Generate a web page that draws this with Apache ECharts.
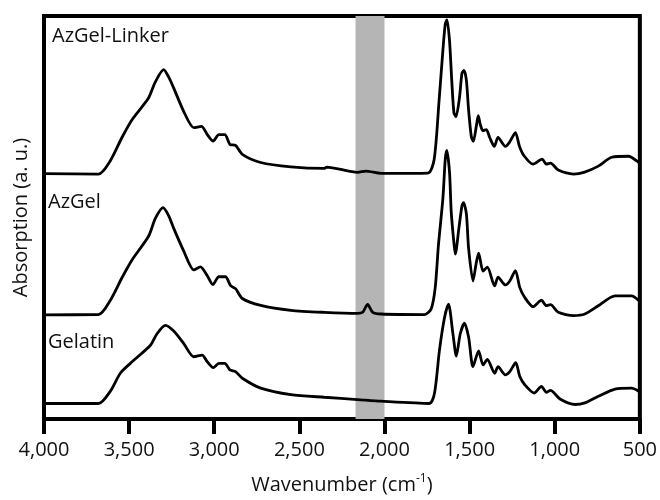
<!DOCTYPE html>
<html>
<head>
<meta charset="utf-8">
<script src="https://cdn.jsdelivr.net/npm/echarts@6/dist/echarts.min.js"></script>
<style>html,body{margin:0;padding:0;background:#fff}#c{width:660px;height:500px}</style>
</head>
<body>
<div id="c"></div>
<script>
// Tick labels (wavenumber, cm-1)
var xTicks = [4000, 3500, 3000, 2500, 2000, 1500, 1000, 500];
var seriesNames = ['AzGel-Linker', 'AzGel', 'Gelatin'];
var bandRange = [2170, 2000];

// AzGel-Linker (offset trace, arbitrary units)
var linkerWn  = [4000,3680,3611,3542,3483,3386,3346,3297,3268,3238,3179,3120,3075,3041,3006,2973,2938,2908,2875,2835,2727,2550,2354,2340,2158,2110,2020,1745,1708,1679,1657,1643,1633,1618,1604,1592,1580,1559,1545,1533,1519,1506,1490,1478,1461,1449,1437,1422,1402,1382,1355,1333,1290,1266,1231,1207,1178,1127,1074,1049,1025,979,890,824,744,665,567,508,500];
var linkerAbs = [248.5,248,261.3,285,303,325,341.3,353.7,346.3,335,311.3,295,296.3,288,281.3,288,288,278,277,268,259.7,255.3,253.7,255,249.7,251,248.7,249,263,323,373,400,404,383,340,310,306,326,350,353,343,313,286,281,296,307,298,292,293,285,276,285,276,280,290,276,266,258,263,258,259,252,248,250,256,265,266,260,258];

// AzGel
var azgelWn  = [4000,3680,3611,3542,3483,3386,3346,3301,3268,3238,3179,3120,3081,3041,3008,2973,2934,2904,2875,2835,2727,2550,2354,2158,2128,2099,2069,2020,1765,1726,1702,1683,1657,1643,1634,1618,1608,1592,1584,1563,1545,1536,1519,1506,1480,1461,1447,1421,1396,1353,1333,1290,1264,1231,1205,1176,1127,1078,1049,1025,979,890,823,744,646,548,504,500];
var azgelAbs = [105.5,105.7,120,143,161,185,203,214,206,193,170,151,154,145,136,144,144,135,132,122,115,110,108,107,108,116,108,106.3,105.7,111.3,133,176.3,223,263,272,250,210,178,167,193,216,219,208,173,139.7,158,168,149.7,153.7,134.7,143.7,135.7,139.7,150.3,133,123,113.7,120.3,114.7,115.7,108,104.7,106.3,114.7,124.7,124.7,119.7,118];

// Gelatin
var gelatinWn  = [4000,3680,3611,3552,3493,3375,3336,3287,3238,3179,3120,3071,3041,3006,2973,2938,2908,2875,2835,2727,2550,2354,2158,2020,1736,1706,1677,1647,1624,1598,1578,1555,1530,1506,1480,1447,1421,1396,1353,1333,1290,1264,1229,1205,1176,1121,1078,1049,1025,969,881,823,744,646,548,504,500];
var gelatinAbs = [15.7,15.7,28,46.3,56.3,74.7,86.3,94.7,89,76.3,63,64.7,58,52,56.3,56.3,49.7,48,41.3,31.3,24.7,22,19.7,18,15.7,26.3,69.7,103,116.3,86.3,63.7,86.3,97,83,53,69,54.7,60.3,46.3,53,44.7,48,57,43,34.7,26.3,33,27,29,20.3,14.7,16.3,23,30.3,31.3,28,27];

function zip(a, b) { return a.map(function (v, i) { return [v, b[i]]; }); }

var chart = echarts.init(document.getElementById('c'), null, {renderer: 'canvas'});
var FONT = 'Open Sans';
var lineStyle = {color: '#000', width: 2.8};

var option = {
  animation: false,
  backgroundColor: '#fff',
  grid: {left: 44, right: 20, top: 16, bottom: 76, show: true, borderColor: '#000', borderWidth: 4, backgroundColor: 'transparent'},
  xAxis: {
    type: 'value', inverse: true, min: 500, max: 4000, interval: 500,
    axisLine: {show: true, lineStyle: {color: '#000', width: 4}},
    axisTick: {show: true, inside: false, length: 15, lineStyle: {color: '#000', width: 4}},
    axisLabel: {color: '#111', fontFamily: FONT, fontSize: 20, margin: 21,
      formatter: function (v) { return v.toLocaleString('en-US'); }},
    splitLine: {show: false},
    name: '{a|Wavenumber (cm}{s|-1}{a|)}',
    nameLocation: 'middle', nameGap: 54,
    nameTextStyle: {rich: {a: {fontFamily: FONT, fontSize: 20, color: '#111'}, s: {fontFamily: FONT, fontSize: 12, color: '#111', verticalAlign: 'top', padding: [0, 0, 12, 0]}}}
  },
  yAxis: {
    type: 'value', min: 0, max: 408,
    axisLine: {show: true, lineStyle: {color: '#000', width: 4}},
    axisTick: {show: false}, axisLabel: {show: false}, splitLine: {show: false},
    name: 'Absorption (a. u.)', nameLocation: 'middle', nameGap: 13,
    nameTextStyle: {fontFamily: FONT, fontSize: 20, color: '#111'}
  },
  series: [
    {name: seriesNames[0], type: 'line', data: zip(linkerWn, linkerAbs), showSymbol: false, smooth: 0.25, lineStyle: lineStyle, z: 3,
     markArea: {silent: true, z: 1, itemStyle: {color: '#b5b5b5'}, data: [[{xAxis: bandRange[0]}, {xAxis: bandRange[1]}]]}},
    {name: seriesNames[1], type: 'line', data: zip(azgelWn, azgelAbs), showSymbol: false, smooth: 0.25, lineStyle: lineStyle, z: 3},
    {name: seriesNames[2], type: 'line', data: zip(gelatinWn, gelatinAbs), showSymbol: false, smooth: 0.25, lineStyle: lineStyle, z: 3}
  ],
  graphic: [
    {type: 'text', left: 52, top: 26, style: {text: seriesNames[0], fontFamily: FONT, fontSize: 20, fill: '#111'}},
    {type: 'text', left: 48, top: 192, style: {text: seriesNames[1], fontFamily: FONT, fontSize: 20, fill: '#111'}},
    {type: 'text', left: 48, top: 332, style: {text: seriesNames[2], fontFamily: FONT, fontSize: 20, fill: '#111'}}
  ]
};
chart.setOption(option);
</script>
</body>
</html>
